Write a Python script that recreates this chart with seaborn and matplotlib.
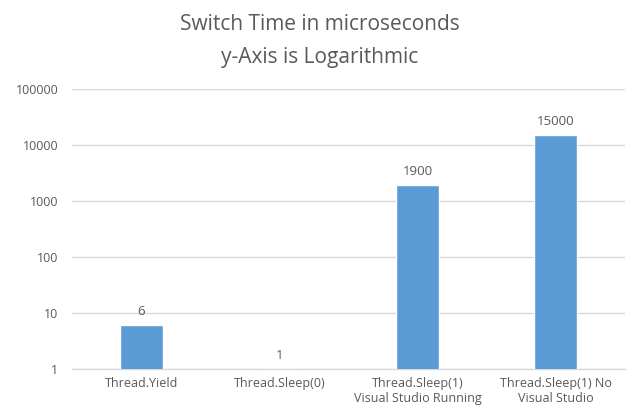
import matplotlib
matplotlib.use('Agg')
import matplotlib.pyplot as plt
import seaborn as sns
import pandas as pd

# chart data
categories = ['Thread.Yield', 'Thread.Sleep(0)',
              'Thread.Sleep(1)\nVisual Studio Running',
              'Thread.Sleep(1) No\nVisual Studio']
switch_us = [6, 1, 1900, 15000]
yticks = [1, 10, 100, 1000, 10000, 100000]

df = pd.DataFrame({'cat': categories, 'us': switch_us})

sns.set_style('white')
plt.rcParams['font.family'] = ['Open Sans', 'DejaVu Sans']

txt = '#595959'
grid = '#D9D9D9'

fig = plt.figure(figsize=(6.39, 4.19), dpi=100)
ax = fig.add_axes([0.113, 0.12, 0.865, 0.668])

sns.barplot(data=df, x='cat', y='us', color='#5B9BD5', saturation=1,
            width=0.31, ax=ax, zorder=3)
ax.set_yscale('log')
ax.set_ylim(1, 100000)
ax.set_yticks(yticks)
ax.set_yticklabels([str(v) for v in yticks])
ax.minorticks_off()
ax.yaxis.grid(True, color=grid, linewidth=1, zorder=0)
for s in ['top', 'right', 'left']:
    ax.spines[s].set_visible(False)
ax.spines['bottom'].set_color(grid)
ax.spines['bottom'].set_linewidth(1)
ax.tick_params(axis='both', length=0, colors=txt, labelsize=9)
ax.tick_params(axis='x', pad=6)
ax.tick_params(axis='y', pad=10)
ax.set_xlabel('')
ax.set_ylabel('')
ax.set_xlim(-0.5, 3.5)

for i, v in enumerate(switch_us):
    ax.annotate(str(v), (i, v), xytext=(0, 5), textcoords='offset points',
                ha='center', va='bottom', color=txt, fontsize=9.5)

fig.text(0.5, 0.966, 'Switch Time in microseconds\ny-Axis is Logarithmic',
         ha='center', va='top', color=txt, fontsize=15, linespacing=1.75)

fig.savefig('out.png', dpi=100)
